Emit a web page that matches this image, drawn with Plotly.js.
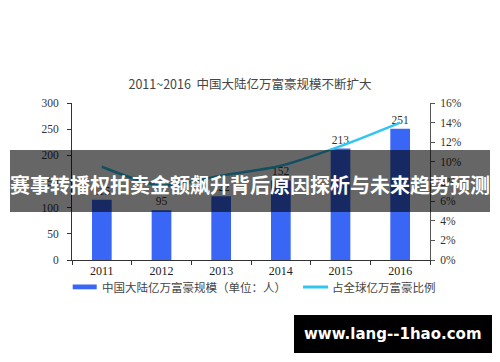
<!DOCTYPE html>
<html>
<head>
<meta charset="utf-8">
<script src="https://cdn.plot.ly/plotly-3.0.1.min.js"></script>
<style>html,body{margin:0;padding:0;background:#fff;}#chart{width:500px;height:362px;}</style>
</head>
<body>
<div id="chart"></div>
<script>
const years = ['2011', '2012', '2013', '2014', '2015', '2016'];
const billionaires = [115, 95, 122, 152, 213, 251];
const globalShare = [0.095, 0.076, 0.086, 0.096, 0.116, 0.140];
const barName = '中国大陆亿万富豪规模（单位：人）';
const lineName = '占全球亿万富豪比例';
const chartTitle = '2011~2016  中国大陆亿万富豪规模不断扩大';
const bannerText = '赛事转播权拍卖金额飙升背后原因探析与未来趋势预测';
const watermarkText = 'www.lang--1hao.com';

const barColor = '#3a66f5';
const lineColor = '#2fc6f2';
const serif = 'Liberation Serif, Times New Roman, serif';
const cjk = 'Noto Sans CJK SC, sans-serif';

const traces = [
  {
    type: 'bar', x: years, y: billionaires, name: barName,
    marker: {color: barColor}, width: 0.33,
    text: billionaires.map(String), textposition: 'outside',
    textfont: {family: serif, size: 11.5, color: '#333'},
    cliponaxis: false, hoverinfo: 'none'
  },
  {
    type: 'scatter', mode: 'lines', x: years, y: globalShare, name: lineName,
    yaxis: 'y2', line: {color: lineColor, width: 2.5, shape: 'spline', smoothing: 0.8},
    hoverinfo: 'none'
  }
];

// pixel -> paper helpers (plot area: x 72..430, y 103..260)
const L = 72, R = 430, T = 103, B = 260;
const px = v => (v - L) / (R - L);
const py = v => (B - v) / (B - T);

const layout = {
  width: 500, height: 362,
  margin: {l: L, r: 500 - R, t: T, b: 362 - B, pad: 0},
  paper_bgcolor: '#fff', plot_bgcolor: '#fff',
  showlegend: false,
  title: {
    text: chartTitle, x: 0.5, xref: 'container', y: 1 - 85 / 362, yref: 'container',
    xanchor: 'center', yanchor: 'middle',
    font: {family: cjk, size: 12.5, color: '#444'}
  },
  xaxis: {
    type: 'category', range: [-0.5, 5.5],
    showline: true, linecolor: '#333', linewidth: 1,
    ticks: 'outside', tickson: 'boundaries', ticklen: 4, tickcolor: '#333',
    tickfont: {family: serif, size: 12, color: '#222'},
    showgrid: false, zeroline: false, fixedrange: true
  },
  yaxis: {
    range: [0, 300], dtick: 50,
    showline: true, linecolor: '#333', linewidth: 1,
    ticks: 'outside', ticklen: 4, tickcolor: '#333', ticklabelstandoff: 6,
    tickfont: {family: serif, size: 11.5, color: '#333'},
    showgrid: false, zeroline: false, fixedrange: true
  },
  yaxis2: {
    overlaying: 'y', side: 'right', range: [0, 0.16], dtick: 0.02, tickformat: '.0%',
    showline: true, linecolor: '#555', linewidth: 1,
    ticks: 'outside', ticklen: 4, tickcolor: '#555', ticklabelstandoff: 3,
    tickfont: {family: serif, size: 11.5, color: '#333'},
    showgrid: false, zeroline: false, fixedrange: true
  },
  shapes: [
    // legend swatches
    {type: 'rect', xref: 'paper', yref: 'paper', x0: px(72.7), x1: px(96.7), y0: py(284.5), y1: py(289.3),
     fillcolor: barColor, line: {width: 0}},
    {type: 'line', xref: 'paper', yref: 'paper', x0: px(303), x1: px(328), y0: py(287), y1: py(287),
     line: {color: lineColor, width: 3}},
    // banner overlay
    {type: 'rect', xref: 'paper', yref: 'paper', x0: px(10), x1: px(490), y0: py(150), y1: py(212),
     fillcolor: 'rgba(0,0,0,0.6)', line: {width: 0}, layer: 'above'},
    // watermark box
    {type: 'rect', xref: 'paper', yref: 'paper', x0: px(294), x1: px(492), y0: py(315), y1: py(353),
     fillcolor: '#000', line: {width: 0}, layer: 'above'}
  ],
  annotations: [
    {xref: 'paper', yref: 'paper', x: px(100), y: py(287), xanchor: 'left', yanchor: 'middle',
     text: barName, showarrow: false, font: {family: cjk, size: 11.5, color: '#444'}},
    {xref: 'paper', yref: 'paper', x: px(330), y: py(287), xanchor: 'left', yanchor: 'middle',
     text: lineName, showarrow: false, font: {family: cjk, size: 11.5, color: '#444'}},
    {xref: 'paper', yref: 'paper', x: px(250), y: py(184), xanchor: 'center', yanchor: 'middle',
     text: '<b>' + bannerText + '</b>', showarrow: false, font: {family: cjk, size: 20, color: '#fff'}},
    {xref: 'paper', yref: 'paper', x: px(393), y: py(334), xanchor: 'center', yanchor: 'middle',
     text: '<b>' + watermarkText + '</b>', showarrow: false, font: {family: 'DejaVu Sans, sans-serif', size: 15, color: '#fff'}}
  ]
};

Plotly.newPlot('chart', traces, layout, {displayModeBar: false, staticPlot: true});
</script>
</body>
</html>
